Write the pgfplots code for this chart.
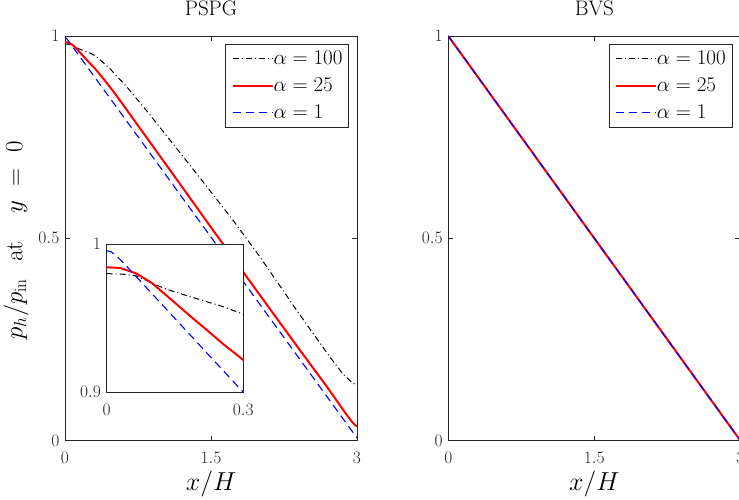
\RequirePackage{fix-cm}
\documentclass[border=0pt]{standalone}
\usepackage{pgfplots}
\usepackage{pgfplotstable}
\pgfplotsset{compat=1.18}
\definecolor{axgray}{gray}{0.15}

\pgfplotstableread{
x y
0 0.9800
0.033 0.9797
0.066 0.9785
0.1 0.9735
0.132 0.9694
0.183 0.9645
0.256 0.9577
0.3 0.9526
0.38 0.937
0.45 0.922
0.634 0.8745
0.85 0.812
1.079 0.7426
1.4 0.645
1.713 0.5488
2.0 0.455
2.38 0.322
2.551 0.264
2.723 0.206
2.85 0.166
2.95 0.143
3.0 0.137
}\blackdata

\pgfplotstableread{
x y
0 0.9843
0.03 0.9838
0.066 0.9800
0.1 0.9735
0.14 0.9630
0.183 0.9515
0.22 0.9420
0.256 0.9325
0.3 0.9218
0.4 0.893
0.5 0.862
0.6 0.829
0.8 0.762
1.0 0.695
1.2 0.628
1.5 0.527
1.8 0.427
2.1 0.327
2.4 0.228
2.7 0.130
2.88 0.068
2.93 0.052
2.96 0.043
2.98 0.038
3.0 0.035
}\reddata

\pgfplotstableread{
x y
0 0.9955
0.01 0.9946
0.02 0.9925
0.04 0.9862
0.3 0.9000
3.0 0.0063
}\bluedata

\pgfplotstableread{
x y
0 1
3 0
}\bvsdata

\pgfplotsset{
  mstyle/.style={
    scale only axis,
    axis line style={axgray, line width=0.6pt},
    tick style={axgray, line width=0.6pt},
    tick align=inside, major tick length=5pt,
    xtick pos=both, ytick pos=both,
    xticklabel style={font=\fontsize{17.5}{20}\selectfont, text=axgray, anchor=base, inner sep=0pt, yshift=-22.8pt},
    yticklabel style={font=\fontsize{17.5}{20}\selectfont, text=axgray, anchor=east, inner sep=0pt, xshift=-5.5pt},
    title style={font=\fontsize{21}{25}\selectfont, anchor=base, inner sep=0pt, yshift=14pt},
    xlabel style={font=\fontsize{26}{30}\selectfont, at={(axis description cs:0.5,0)}, anchor=base, yshift=-49.5pt},
    legend style={at={(axis description cs:1,1)}, anchor=north east, xshift=-8.3pt, yshift=-8pt,
      draw=axgray, fill=white, font=\fontsize{21}{24}\selectfont,
      inner xsep=6pt, inner ysep=7pt, row sep=12pt,
      nodes={inner sep=0pt}},
    legend cell align=left,
    legend image code/.code={\draw[##1] (0pt,0pt) -- (37.6pt,0pt); \path (0pt,0pt) -- (40pt,0pt);},
  },
  blk/.style={black, line width=1pt, dash pattern=on 6pt off 3pt on 1pt off 3pt},
  rd/.style={red, line width=2pt},
  bl/.style={blue, line width=1.1pt, dash pattern=on 8pt off 5pt},
}

\begin{document}
\begin{tikzpicture}
\path[use as bounding box] (0pt,0pt) rectangle (739pt,499pt);
\clip (0pt,0pt) rectangle (739pt,499pt);

\begin{axis}[mstyle,
  at={(65pt,58.5pt)}, anchor=south west,
  width=292pt, height=404.5pt,
  xmin=0, xmax=3, ymin=0, ymax=1,
  xtick={0,1.5,3}, ytick={0,0.5,1},
  title={$\mathrm{PSPG}$},
  xlabel={$x/H$},
  ylabel={$p_h/p_{\mathrm{in}}\hspace{17pt}\mathrm{at}\hspace{28pt}y\hspace{14pt}{=}\hspace{16pt}0$},
  ylabel style={font=\fontsize{25}{28}\selectfont, at={(axis description cs:-0.146,0.495)}, anchor=base},
]
\addplot[blk] table {\blackdata};
\addlegendentry{$\alpha=100$}
\addplot[rd] table {\reddata};
\addlegendentry{$\alpha=25$}
\addplot[bl] table {\bluedata};
\addlegendentry{$\alpha=1$}
\end{axis}

\begin{axis}[mstyle,
  at={(106.7pt,106.7pt)}, anchor=south west,
  width=136.6pt, height=148.3pt,
  xmin=0, xmax=0.3, ymin=0.9, ymax=1,
  xtick={0,0.3}, ytick={0.9,1},
  major tick length=3pt,
  axis background/.style={fill=white},
]
\addplot[blk] table {\blackdata};
\addplot[rd] table {\reddata};
\addplot[bl] table {\bluedata};
\end{axis}

\begin{axis}[mstyle,
  at={(448.3pt,58.5pt)}, anchor=south west,
  width=292pt, height=404.5pt,
  xmin=0, xmax=3, ymin=0, ymax=1,
  xtick={0,1.5,3}, ytick={0,0.5,1},
  title={$\mathrm{BVS}$},
  xlabel={$x/H$},
]
\addplot[blk] table {\bvsdata};
\addlegendentry{$\alpha=100$}
\addplot[rd] table {\bvsdata};
\addlegendentry{$\alpha=25$}
\addplot[bl] table {\bvsdata};
\addlegendentry{$\alpha=1$}
\end{axis}
\end{tikzpicture}
\end{document}
